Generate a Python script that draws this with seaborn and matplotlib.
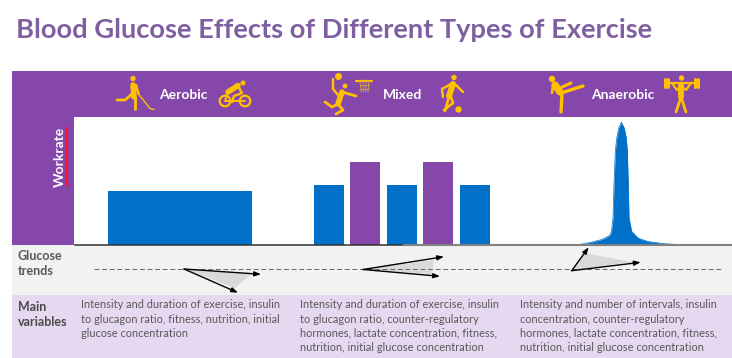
import matplotlib
matplotlib.use("Agg")
import matplotlib.pyplot as plt
import pandas as pd
import seaborn as sns
from matplotlib.patches import Circle, Polygon, Rectangle

# Colours
purple = "#8547A9"
blue = "#0070C8"
lilac = "#E5D8F0"
pale = "#F2F2F2"
gold = "#FFC000"
dark_text = "#595959"

# Workrate panel data (x is time on the panel's own axis, y is workrate)
aerobic_time = [180]
aerobic_rate = [54]
aerobic_width = 144
mixed_time = [329, 365, 402, 438, 475]
mixed_rate = [60, 83, 60, 83, 60]
mixed_kind = ["low", "high", "low", "high", "low"]
peak_time = [577, 590, 600, 605, 610, 611.5, 613, 614, 615.3, 616.7, 618.7, 621.3,
             624.3, 626.3, 627.3, 628.3, 629, 631.7, 638.3, 648, 665, 690]
peak_rate = [0, 2.5, 5, 7, 10, 14, 26.8, 60, 93.5, 106.8, 116.8, 122.8,
             116.8, 106.8, 93.5, 60, 26.8, 13.5, 6.8, 3.5, 1.2, 0]

# Glucose trends: start, the two arrow tips, and the corners of the grey wedge
trend_line_time = [94, 722]
trend_line_level = [0, 0]
aerobic_arrows = [(184, 0), (261, -5.3), (238, -23.7)]
aerobic_wedge = [(184, 0), (252, -4.5), (235, -19)]
mixed_arrows = [(363, -0.5), (444, 12.3), (440, -7.3)]
mixed_wedge = [(363, -0.5), (434, 9), (432, -5)]
anaerobic_arrows = [(571.7, -1.7), (588.7, 21.7), (640.7, 6.7)]
anaerobic_wedge = [(571.7, -1.7), (584, 16), (632, 7)]

# Text
title = "Blood Glucose Effects of Different Types of Exercise"
variables_aerobic = "Intensity and duration of exercise, insulin\nto glucagon ratio, fitness, nutrition, initial\nglucose concentration"
variables_mixed = "Intensity and duration of exercise, insulin\nto glucagon ratio, counter-regulatory\nhormones, lactate concentration, fitness,\nnutrition, initial glucose concentration"
variables_anaerobic = "Intensity and number of intervals, insulin\nconcentration, counter-regulatory\nhormones, lactate concentration, fitness,\nnutrition, initial glucose concentration"

W, H = 732, 358
plt.rcParams["font.family"] = ["Lato", "DejaVu Sans"]
fig = plt.figure(figsize=(W / 100, H / 100), dpi=100)


def panel(x0, y0, x1, y1, **kw):
    # axes placed by its pixel box, y0 is the top edge
    return fig.add_axes([x0 / W, 1 - y1 / H, (x1 - x0) / W, (y1 - y0) / H], **kw)


# page layer, in pixels
page = panel(0, 0, W, H)
page.set_xlim(0, W)
page.set_ylim(H, 0)
page.axis("off")
page.add_patch(Rectangle((12, 71), W - 12, 46, color=purple, lw=0))
page.add_patch(Rectangle((12, 117), 62, 128, color=purple, lw=0))
page.add_patch(Rectangle((12, 245), W - 12, 50, color=pale, lw=0))
page.add_patch(Rectangle((12, 295), W - 12, 63, color=lilac, lw=0))

page.text(16, 30, title, fontsize=19.6, fontweight="bold", color="#7F5FA0", va="center")
for label, x in [("Aerobic", 159), ("Mixed", 383), ("Anaerobic", 591)]:
    page.text(x, 95, label, fontsize=10, fontweight="bold", color="white", va="center")
page.text(60, 157, "Workrate", fontsize=10, fontweight="bold", color="white",
          rotation=90, ha="center", va="center")
# spell-check squiggle beside the rotated label
wave_y = list(range(128, 188, 2))
wave_x = [65.8 + (i % 2) * 1.6 for i in range(len(wave_y))]
page.plot(wave_x, wave_y, color="#FF1030", lw=1.3, zorder=6)

page.text(18, 263.5, "Glucose\ntrends", fontsize=9, fontweight="bold", color=dark_text,
          va="center", linespacing=1.35)
page.text(18, 314.5, "Main\nvariables", fontsize=9, fontweight="bold", color="#4A4A4A",
          va="center", linespacing=1.35)
for txt, x in [(variables_aerobic, 81), (variables_mixed, 300), (variables_anaerobic, 520)]:
    page.text(x, 299.5, txt, fontsize=7.9, color=dark_text, va="top", linespacing=1.35)


# pictograms
def stroke(points, lw=2.0, color=gold):
    xs, ys = zip(*points)
    page.plot(xs, ys, color=color, lw=lw, solid_capstyle="round", solid_joinstyle="round")


def dot(x, y, r):
    page.add_patch(Circle((x, y), r, color=gold, lw=0, zorder=3))


def ring(x, y, r):
    page.add_patch(Circle((x, y), r, fill=False, ec=gold, lw=1.6, zorder=3))


# hockey
dot(133, 78.5, 2.7)
stroke([(133, 85), (134, 97)], 4.0)
stroke([(134.5, 97), (134.5, 109)], 2.0)
stroke([(132, 94), (125, 100), (117, 100)], 2.0)
stroke([(136, 85), (138.5, 94)], 1.8)
stroke([(138.5, 94), (150, 108.5), (154, 109.5)], 1.0)
# cycling
ring(225, 101, 5.3)
ring(245, 101, 5.3)
dot(243, 83, 2.5)
stroke([(228, 92), (238, 85.5)], 4.0)
stroke([(238, 86), (242, 93), (234, 96), (232, 102)], 1.8)
stroke([(228, 92), (225, 101), (235, 101), (245, 101)], 1.4)
# volleyball and hoop
dot(338.5, 76.5, 3.5)
dot(345, 86, 2.4)
stroke([(342, 92), (338, 104)], 4.0)
stroke([(333, 79), (333, 89), (339, 96)], 1.8)
stroke([(342, 92), (356, 96)], 2.0)
stroke([(338, 104), (332, 107), (325, 102)], 2.0)
stroke([(338, 104), (343, 110), (336, 114)], 2.0)
stroke([(356, 81), (372, 81)], 1.6)
for x in (360, 363, 366, 369):
    stroke([(x, 81), (x + (364.5 - x) * 0.25, 92)], 0.7, "#D0A040")
for y in (85, 89):
    stroke([(360, y), (369, y)], 0.7, "#D0A040")
# football
dot(454, 77.5, 2.7)
stroke([(453, 84), (449, 96)], 4.4)
stroke([(451, 84), (442, 89), (443, 97)], 1.8)
stroke([(456, 85), (463, 92)], 1.8)
stroke([(449, 97), (445, 111)], 2.0)
stroke([(451, 97), (453, 103), (444, 110)], 2.0)
dot(458.5, 109.5, 3.2)
# kick
dot(552, 79, 3.2)
stroke([(555, 85), (560, 92)], 5.2)
stroke([(561, 93), (583, 86)], 2.4)
stroke([(562, 93), (561, 112)], 2.4)
stroke([(560, 88), (571, 83)], 2.2)
stroke([(553, 85), (552, 93)], 1.8)
# weights
dot(681.5, 78, 2.7)
stroke([(666, 83), (697, 83)], 1.6)
for x in (665, 668, 695, 698):
    stroke([(x, 79), (x, 87)], 2.2)
stroke([(681, 85), (681, 97)], 4.2)
stroke([(672, 83), (677, 90), (681, 86), (686, 90), (691, 83)], 1.6)
stroke([(681, 97), (676, 112)], 2.0)
stroke([(681, 97), (686, 112)], 2.0)

# workrate panel
ax = panel(74, 117, W, 245)
sns.barplot(x=aerobic_time, y=aerobic_rate, native_scale=True, width=aerobic_width,
            color=blue, saturation=1, ax=ax, errorbar=None)
mixed = pd.DataFrame({"time": mixed_time, "rate": mixed_rate, "kind": mixed_kind})
sns.barplot(data=mixed, x="time", y="rate", hue="kind", native_scale=True, width=0.83,
            palette={"low": blue, "high": purple}, saturation=1, dodge=False,
            legend=False, ax=ax, errorbar=None)
sns.lineplot(x=peak_time, y=peak_rate, color=blue, lw=0.5, ax=ax, errorbar=None)
ax.fill_between(peak_time, peak_rate, color=blue, lw=0)
ax.set_xlim(74, W)
ax.set_ylim(0, 128)
ax.axis("off")

# glucose trends panel, level 0 is the dashed reference
gl = panel(74, 245, W, 295)
sns.lineplot(x=trend_line_time, y=trend_line_level, color="#666666", lw=0.7,
             ls=(0, (5, 2.8)), ax=gl, errorbar=None)
gl.set_xlim(74, W)
gl.set_ylim(-26, 24)
gl.axis("off")
for wedge, arrows in [(aerobic_wedge, aerobic_arrows), (mixed_wedge, mixed_arrows),
                      (anaerobic_wedge, anaerobic_arrows)]:
    gl.add_patch(Polygon(wedge, closed=True, color="#D9D9D9", lw=0))
    for tip in arrows[1:]:
        gl.annotate("", xy=tip, xytext=arrows[0],
                    arrowprops=dict(arrowstyle="-|>,head_length=0.38,head_width=0.14",
                                    color="black", lw=1.0, shrinkA=0, shrinkB=0))

# panel base line on top of the bars
base = panel(0, 0, W, H)
base.set_xlim(0, W)
base.set_ylim(H, 0)
base.axis("off")
base.plot([75, 404], [244.8, 244.8], color="#333333", lw=1.1)
base.plot([404, W], [244.8, 244.8], color="#808080", lw=1.5)

fig.savefig("out.png", dpi=100)
